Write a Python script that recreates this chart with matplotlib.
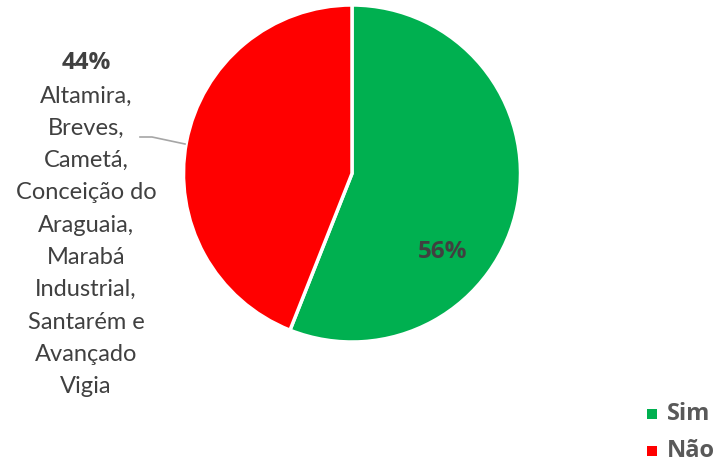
import matplotlib
matplotlib.use("Agg")
import matplotlib.pyplot as plt
from matplotlib.lines import Line2D

categories = ["Sim", "Não"]
values = [56, 44]
colors = ["#00B050", "#FF0000"]
pct_labels = ["56%", "44%"]
nao_detail = ["Altamira,", "Breves,", "Cametá,", "Conceição do", "Araguaia,",
              "Marabá", "Industrial,", "Santarém e", "Avançado", "Vigia"]

W, H = 715, 466
fig = plt.figure(figsize=(W / 100, H / 100), dpi=100)
ax = fig.add_axes([0, 0, 1, 1])

font = ["Lato", "DejaVu Sans"]
bfont = ["Open Sans", "DejaVu Sans"]
cx, cy, r = 352, H - 173.5, 168.5
ax.pie(values, colors=colors, startangle=90, counterclock=False,
       center=(cx, cy), radius=r, frame=True,
       wedgeprops=dict(edgecolor="white", linewidth=2.5))
ax.set_xlim(0, W)
ax.set_ylim(0, H)
ax.set_aspect("equal")
ax.axis("off")

# 56% label
ax.text(443, H - 252, pct_labels[0], ha="center", va="center", fontsize=17.5,
        fontweight="bold", color="#404040", family=bfont)

# 44% label with detail
ax.text(86, H - 63, pct_labels[1], ha="center", va="center", fontsize=17.5,
        fontweight="bold", color="#404040", family=bfont)
y0 = 96
step = 32.3
for i, line in enumerate(nao_detail):
    ax.text(86, H - (y0 + i * step), line, ha="center", va="center",
            fontsize=17, color="#404040", family=font)

# leader line
ax.add_line(Line2D([140, 152, 185], [H - 137, H - 137, H - 144],
                   color="#A6A6A6", linewidth=1.2))

# legend
for i, (cat, col) in enumerate(zip(categories, colors)):
    y = H - (414 + i * 37)
    ax.scatter([652], [y], marker="s", s=60, color=col, linewidths=0)
    ax.text(667, y, cat, ha="left", va="center", fontsize=17,
            fontweight="bold", color="#595959", family=bfont)

fig.savefig("out.png", dpi=100)
